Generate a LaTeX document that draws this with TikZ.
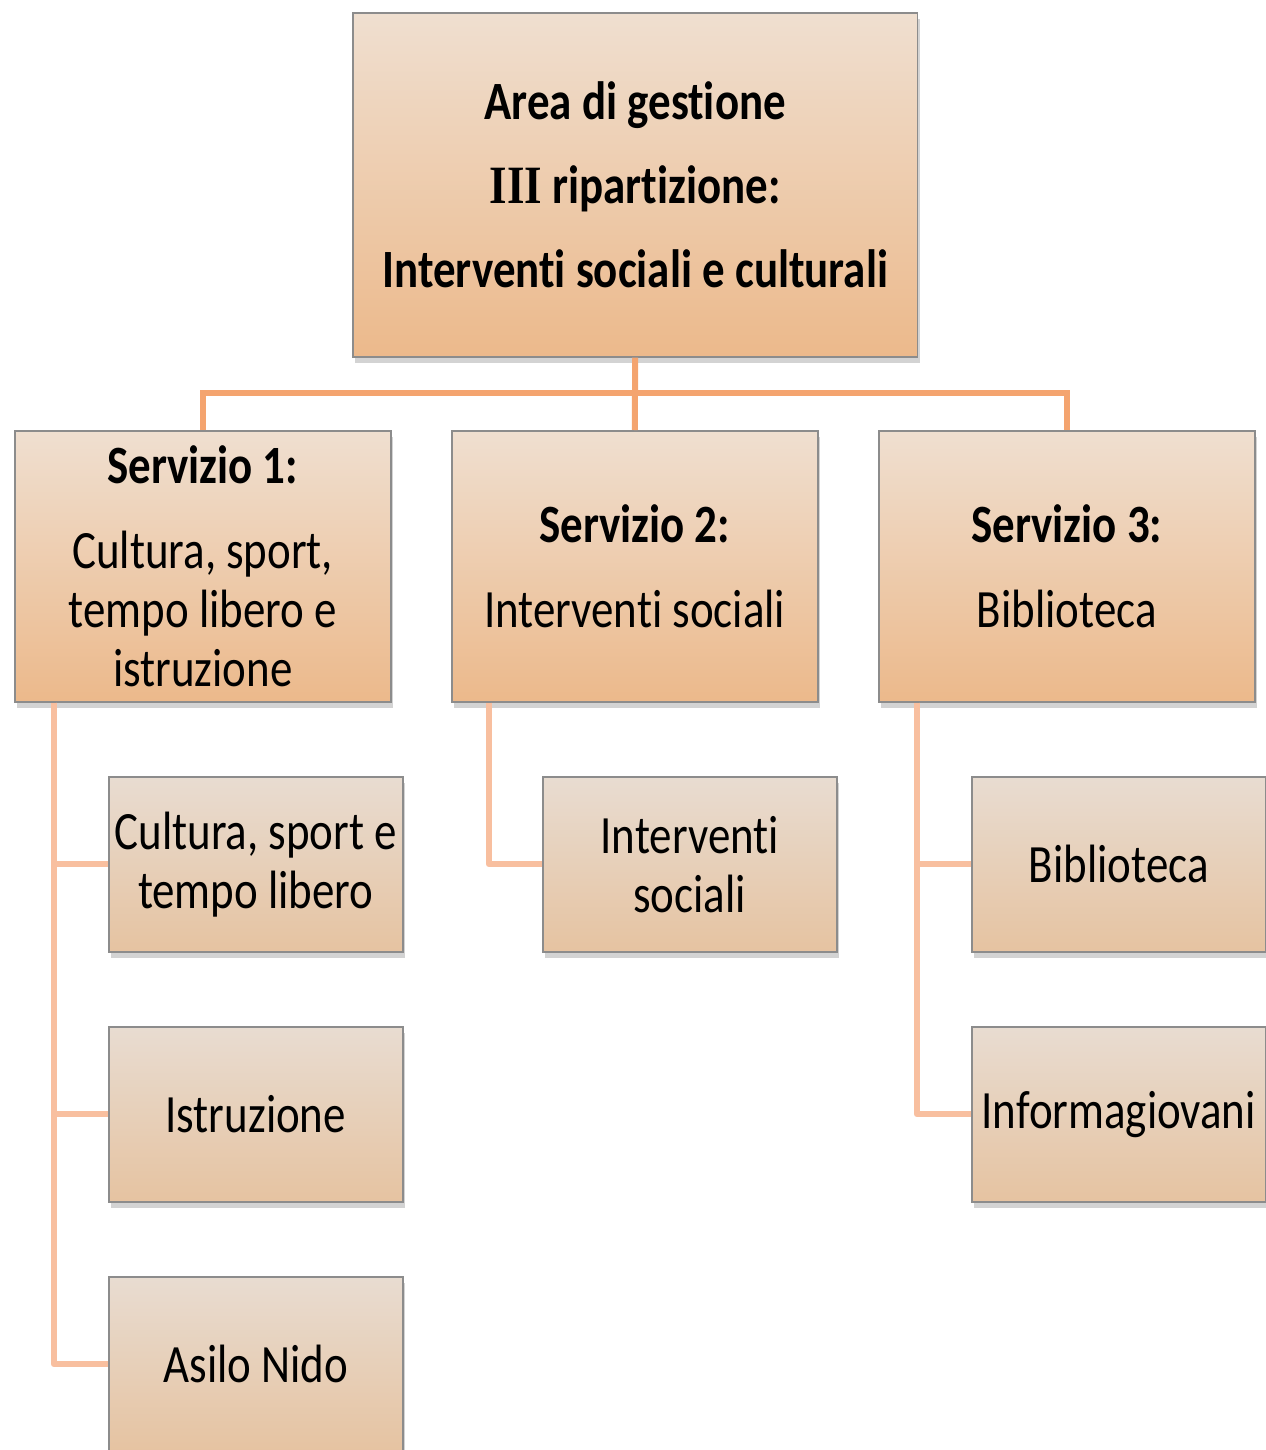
\documentclass[tikz,border=0pt]{standalone}
\usepackage{fontspec}
\setmainfont{Carlito}[FakeStretch=0.833, Ligatures={NoCommon}]
\newfontfamily\romanIII{Liberation Serif}[FakeStretch=0.833]
\usetikzlibrary{shadows}
\definecolor{topA}{HTML}{EFDFD0}
\definecolor{topB}{HTML}{ECB98B}
\definecolor{chA}{HTML}{E8DCD1}
\definecolor{chB}{HTML}{E6C3A1}
\definecolor{boxline}{HTML}{8C8C8C}
\definecolor{connA}{HTML}{F4A46F}
\definecolor{connB}{HTML}{F8BF9F}
\tikzset{
  basebox/.style={draw=boxline, line width=0.9pt, anchor=north west, inner sep=0pt,
    align=center, font=\fontsize{30.7pt}{33.5pt}\selectfont,
    drop shadow={opacity=0.35, shadow xshift=1.5pt, shadow yshift=-3.5pt}},
  levelbox/.style={basebox, top color=topA, bottom color=topB},
  childbox/.style={basebox, top color=chA, bottom color=chB,
    minimum width=5.88cm, minimum height=3.5cm},
  connup/.style={draw=connA, line width=3.4pt},
  conndown/.style={draw=connB, line width=3.4pt, line join=round}
}
\begin{document}
\begin{tikzpicture}[x=0.02cm, y=-0.02cm]
\useasboundingbox (0,0) rectangle (1265,1450);
% top box
\node[levelbox, minimum width=11.3cm, minimum height=6.88cm] (top) at (352,12)
  {\textbf{Area di gestione}\\[14.3pt]
   \textbf{{\romanIII III} ripartizione:}\\[14.3pt]
   \textbf{Interventi sociali e culturali}};
% services
\node[levelbox, minimum width=7.52cm, minimum height=5.42cm] (s1) at (14,430)
  {\textbf{Servizio 1:}\\[14.8pt]Cultura, sport,\\tempo libero e\\istruzione};
\node[levelbox, minimum width=7.32cm, minimum height=5.42cm] (s2) at (451,430)
  {\textbf{Servizio 2:}\\[14.8pt]Interventi sociali};
\node[levelbox, minimum width=7.52cm, minimum height=5.42cm] (s3) at (878,430)
  {\textbf{Servizio 3:}\\[14.8pt]Biblioteca};
% children
\node[childbox] (c11) at (108,776) {Cultura, sport e\\tempo libero};
\node[childbox] (c12) at (108,1026) {Istruzione};
\node[childbox] (c13) at (108,1276) {Asilo Nido};
\node[childbox] (c21) at (542,776) {Interventi\\sociali};
\node[childbox] (c31) at (971,776) {Biblioteca};
\node[childbox] (c32) at (971,1026) {Informagiovani};
% upper connectors
\draw[connup] (top.south) -- (s2.north);
\draw[connup] (s1.north) -- ++(0,-37) -| (s3.north);
% lower connectors
\draw[conndown] (s1.south west) ++(40,0) |- (c11.west);
\draw[conndown] (s1.south west) ++(40,0) |- (c12.west);
\draw[conndown] (s1.south west) ++(40,0) |- (c13.west);
\draw[conndown] (s2.south west) ++(38,0) |- (c21.west);
\draw[conndown] (s3.south west) ++(39,0) |- (c31.west);
\draw[conndown] (s3.south west) ++(39,0) |- (c32.west);
\end{tikzpicture}
\end{document}
